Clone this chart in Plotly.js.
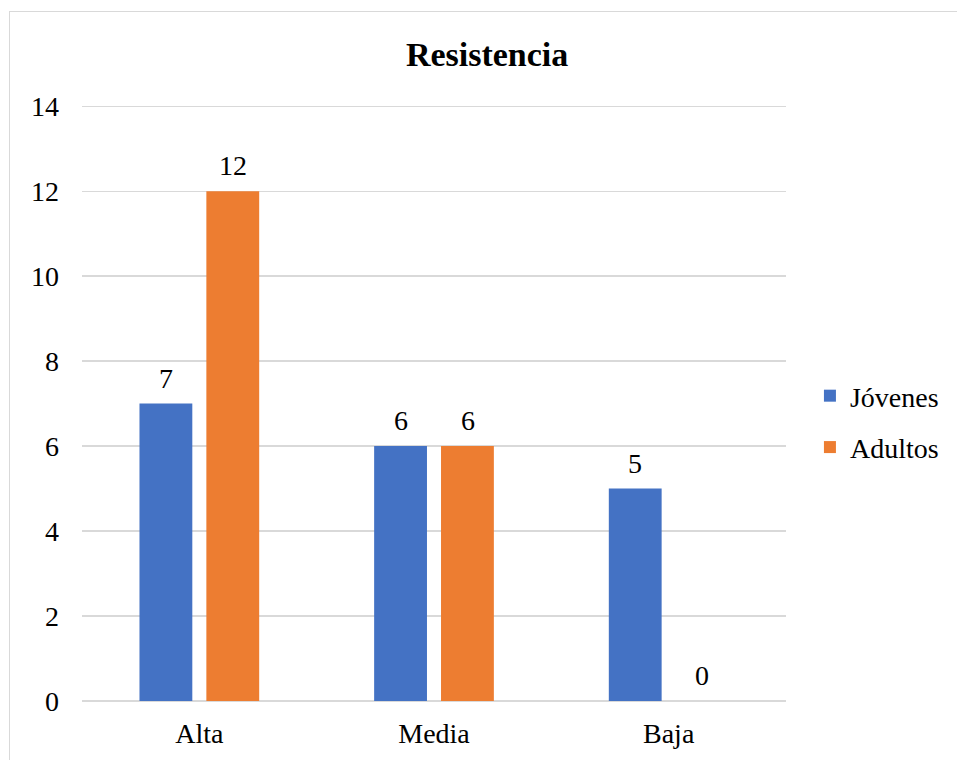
<!DOCTYPE html>
<html>
<head>
<meta charset="utf-8">
<script src="https://cdn.plot.ly/plotly-3.0.1.min.js"></script>
<style>
  html, body { margin: 0; padding: 0; background: #fff; overflow: hidden; }
  #wrap { position: relative; width: 957px; height: 760px; }
  #chart { position: absolute; left: 0; top: 0; width: 957px; height: 760px; }
  #frame { position: absolute; left: 9px; top: 11px; width: 980px; height: 780px;
           border: 1.5px solid #d9d9d9; box-sizing: border-box; pointer-events: none; }
</style>
</head>
<body>
<div id="wrap">
  <div id="chart"></div>
  <div id="frame"></div>
</div>
<script>
// Resistencia por grupo de edad
const categories = ['Alta', 'Media', 'Baja'];
const seriesNames = ['Jóvenes', 'Adultos'];
const jovenes = [7, 6, 5];
const adultos = [12, 6, 0];
const seriesValues = [jovenes, adultos];
const seriesColors = ['#4472C4', '#ED7D31'];
const yTicks = [0, 2, 4, 6, 8, 10, 12, 14];

const serif = 'Liberation Serif, Times New Roman, serif';

const traces = seriesValues.map((vals, i) => ({
  type: 'bar',
  name: seriesNames[i],
  x: categories,
  y: vals,
  legendgroup: 'g' + i,
  marker: { color: seriesColors[i] },
  hoverinfo: 'x+y+name'
}));

// value labels above each bar, one per series/category
const barShift = 33.5;
const annotations = [];
seriesValues.forEach((vals, i) => {
  vals.forEach((v, j) => {
    annotations.push({
      x: categories[j], y: v, xref: 'x', yref: 'y',
      text: String(v), showarrow: false,
      xshift: i === 0 ? -barShift : barShift,
      yanchor: 'bottom', yshift: 8,
      font: { family: serif, size: 28, color: '#000' }
    });
  });
});

const yMax = yTicks[yTicks.length - 1];

const layout = {
  width: 957, height: 760,
  paper_bgcolor: '#fff', plot_bgcolor: '#fff',
  margin: { l: 82, r: 171, t: 105, b: 59, pad: 0, autoexpand: false },
  font: { family: serif, size: 28, color: '#000' },
  title: {
    text: '<b>Resistencia</b>',
    font: { family: serif, size: 34, color: '#000' },
    xref: 'container', x: 0.509, xanchor: 'center',
    yref: 'container', y: 0.929, yanchor: 'middle'
  },
  barmode: 'group',
  bargap: 0.43,
  bargroupgap: 0.21,
  xaxis: {
    type: 'category', automargin: false,
    showgrid: false, zeroline: false, showline: false,
    ticks: '', ticklabelstandoff: 13,
    tickfont: { family: serif, size: 28, color: '#000' }
  },
  yaxis: {
    range: [0, yMax * 1.002], automargin: false,
    tickvals: yTicks,
    ticktext: yTicks.map(String),
    showgrid: true, gridcolor: '#d9d9d9', gridwidth: 1.3,
    zeroline: true, zerolinecolor: '#d9d9d9', zerolinewidth: 1.3,
    showline: false, ticks: '', ticklabelstandoff: 22,
    tickfont: { family: serif, size: 28, color: '#000' }
  },
  showlegend: true,
  legend: {
    x: 1.034, xanchor: 'left', xref: 'paper',
    y: 0.469, yanchor: 'middle', yref: 'paper',
    traceorder: 'grouped', tracegroupgap: 12,
    font: { family: serif, size: 28, color: '#000' },
    bgcolor: 'rgba(0,0,0,0)', borderwidth: 0
  },
  annotations: annotations
};

Plotly.newPlot('chart', traces, layout, { displayModeBar: false, staticPlot: true });
</script>
</body>
</html>
